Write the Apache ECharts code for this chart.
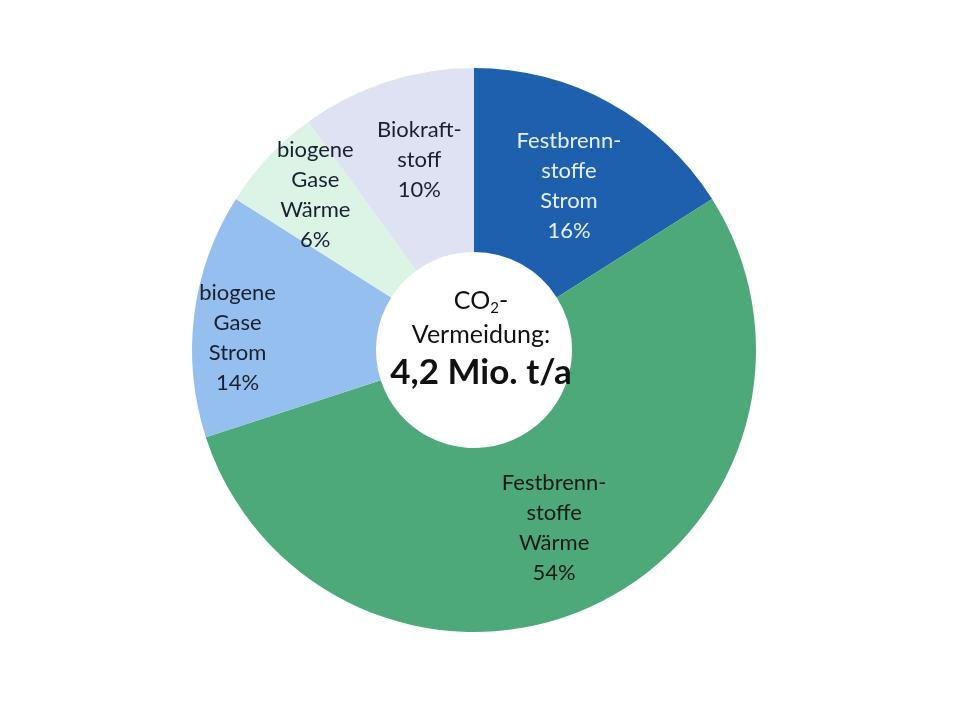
<!DOCTYPE html>
<html>
<head>
<meta charset="utf-8">
<script src="https://cdn.jsdelivr.net/npm/echarts@6/dist/echarts.min.js"></script>
<style>
  html, body { margin: 0; padding: 0; background: #fff; }
  #chart { width: 960px; height: 720px; }
</style>
</head>
<body>
<div id="chart"></div>
<script>
  // Anteile der CO2-Vermeidung (im Uhrzeigersinn ab 12 Uhr)
  var names = ['Festbrennstoffe Strom', 'Festbrennstoffe Wärme', 'biogene Gase Strom', 'biogene Gase Wärme', 'Biokraftstoff']
  var labelTexts = ['Festbrenn-\nstoffe\nStrom', 'Festbrenn-\nstoffe\nWärme', 'biogene\nGase\nStrom', 'biogene\nGase\nWärme', 'Biokraft-\nstoff']
  var shares = [16, 54, 14, 6, 10]

  var colors = ['#1E5FAE', '#4EA97A', '#95BFEE', '#DCF4E6', '#DFE2F2']
  var textColors = ['#E6F0FA', '#1a1a1a', '#1a2030', '#1a2030', '#1a2030']
  var labelOffsets = [[2, 5], [-2, 3], [-45, 12], [-18, -23], [5, -7]]

  var chart = echarts.init(document.getElementById('chart'))

  var data = shares.map(function (v, i) {
    return {
      name: names[i],
      value: v,
      itemStyle: {color: colors[i]},
      label: {color: textColors[i], offset: labelOffsets[i]}
    }
  })

  chart.setOption({
    animation: false,
    title: {
      text: '{n|CO}{sub|2}{n|-}\n{n|Vermeidung:}\n{b|4,2 Mio. t/a}',
      left: 476,
      top: 334,
      textAlign: 'center',
      textVerticalAlign: 'middle',
      textStyle: {
        fontWeight: 'normal',
        rich: {
          n: {fontFamily: 'Lato', fontSize: 25, fontWeight: 'normal', color: '#111', lineHeight: 34},
          sub: {fontFamily: 'Lato', fontSize: 15, fontWeight: 'normal', color: '#111', lineHeight: 34, padding: [14, 0, 0, 0]},
          b: {fontFamily: 'Lato', fontSize: 35, fontWeight: 'bold', color: '#111', lineHeight: 42}
        }
      }
    },
    series: [{
      type: 'pie',
      center: [474, 350],
      radius: [98, 282],
      startAngle: 90,
      clockwise: true,
      avoidLabelOverlap: false,
      label: {
        show: true,
        position: 'inside',
        fontFamily: 'Lato',
        fontSize: 22,
        lineHeight: 30,
        align: 'center',
        formatter: function (p) {
          return labelTexts[p.dataIndex] + '\n' + p.value + '%'
        }
      },
      labelLine: {show: false},
      data: data
    }]
  })
</script>
</body>
</html>
